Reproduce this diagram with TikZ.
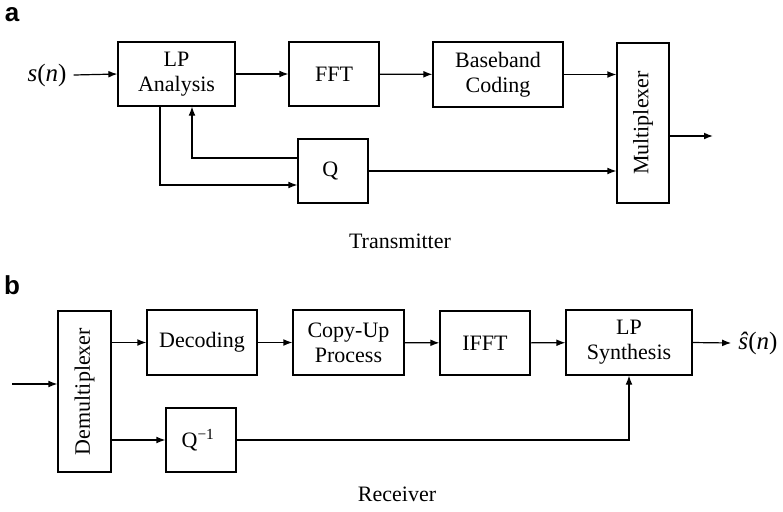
\documentclass[tikz,border=0pt]{standalone}
\usepackage{fontspec}
\setmainfont{Liberation Serif}
\setsansfont{Liberation Sans}
\usetikzlibrary{arrows.meta}
\begin{document}
\begin{tikzpicture}[x=0.5pt, y=-0.5pt, line width=0.6pt,
    >={Latex[length=4.5pt,width=3.4pt]},
    every node/.style={font=\fontsize{11}{12.5}\selectfont},
    blk/.style={draw, align=center, inner sep=0pt},
    panel/.style={font=\sffamily\bfseries\fontsize{13}{15}\selectfont}]
   \useasboundingbox (0,0) rectangle (783,511);
   % transmitter
   \node[panel] (a) at (12,15) {a};
   \foreach \n/\x/\y/\w/\h/\t in
     { lp/176.5/74/58.5/32/{LP\\Analysis},
      fft/334/74/45/32/{FFT},
       bb/498/74.5/65/32.5/{Baseband\\Coding},
        q/333/171/35/32/{Q}
     }
     \node[blk, minimum width=\w pt, minimum height=\h pt] (\n) at (\x,\y) {\t};
   \node[blk, rotate=90, minimum width=80pt, minimum height=26pt] (mux) at (643,123) {Multiplexer};

   \node (sn) at (47,75) {\fontsize{12.5}{14}\selectfont\textit{s}(\textit{n})};
   \draw[->] (sn.east) -- (lp.west);
   \draw[->] (lp) -- (fft);
   \draw[->] (fft) -- (bb);
   \draw[->] (bb.east) -- (bb.east -| mux.north);
   \coordinate (txout) at (713,136);
   \draw[->] (txout -| mux.south) -- (txout);
   \draw[->] ([yshift=6.5pt]q.west) -| ([xshift=7.75pt]lp.south);
   \draw[->] ([xshift=-8.25pt]lp.south) |- ([yshift=-7pt]q.west);
   \draw[->] (q.east) -- (q.east -| mux.north);
   \node (tx) at (400,241) {Transmitter};

   % receiver
   \node[panel] (b) at (12,285) {b};
   \foreach \n/\x/\y/\w/\h/\t in
     { dec/202/342.5/55/32.5/{Decoding},
       cpy/348.5/342.5/55.5/32.5/{Copy-Up\\Process},
      ifft/485/343/45/32/{IFFT},
       lps/629/342.5/63/32.5/{LP\\Synthesis},
      qinv/201/440/35/32/{Q\textsuperscript{−1}}
     }
     \node[blk, minimum width=\w pt, minimum height=\h pt] (\n) at (\x,\y) {\t};
   \node[blk, rotate=90, minimum width=80.5pt, minimum height=26.5pt] (dmx) at (84.5,391.5) {Demultiplexer};

   \coordinate (rxin) at (12,384);
   \draw[->] (rxin) -- (rxin -| dmx.north);
   \draw[->] (dmx.south |- dec.west) -- (dec.west);
   \draw[->] (dmx.south |- qinv.west) -- (qinv.west);
   \draw[->] (dec) -- (cpy);
   \draw[->] (cpy) -- (ifft);
   \draw[->] (ifft) -- (lps);
   \draw[->] (qinv.east) -| (lps.south);
   \node (shat) at (758,343) {\fontsize{12.5}{14}\selectfont\textit{\^{s}}(\textit{n})};
   \draw[->] (lps.east) -- (shat.west);
   \node (rx) at (397,494) {Receiver};
\end{tikzpicture}
\end{document}
